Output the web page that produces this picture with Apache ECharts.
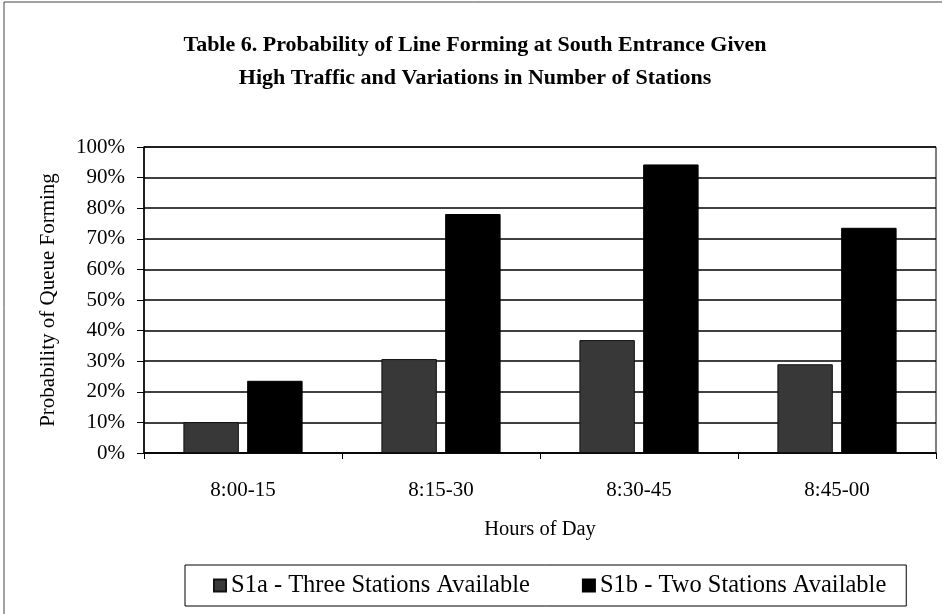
<!DOCTYPE html>
<html>
<head>
<meta charset="utf-8">
<script src="https://cdn.jsdelivr.net/npm/echarts@6/dist/echarts.min.js"></script>
<style>html,body{margin:0;padding:0;background:#fff;}#c{width:942px;height:614px;}</style>
</head>
<body>
<div id="c"></div>
<script>
const categories = ['8:00-15', '8:15-30', '8:30-45', '8:45-00'];
const s1a = [10.1, 30.7, 36.9, 29.0];
const s1b = [23.6, 78.1, 94.3, 73.6];
const seriesNames = ['S1a - Three Stations Available', 'S1b - Two Stations Available'];

const font = '"Liberation Serif", "Times New Roman", serif';
const chart = echarts.init(document.getElementById('c'));
chart.setOption({
  animation: false,
  backgroundColor: '#fff',
  textStyle: { fontFamily: font, color: '#000' },
  title: {
    text: 'Table 6. Probability of Line Forming at South Entrance Given\nHigh Traffic and Variations in Number of Stations',
    left: 470, top: 24, textAlign: 'center',
    textStyle: { fontFamily: font, fontSize: 22, fontWeight: 'bold', color: '#000', lineHeight: 33 }
  },
  graphic: [{
    type: 'rect', shape: { x: 4, y: 2, width: 960, height: 640 },
    style: { fill: 'none', stroke: '#444', lineWidth: 1 }, silent: true
  }],
  legend: {
    data: seriesNames,
    left: 185, top: 565,
    padding: [8, 20, 8, 28],
    itemGap: 52, itemWidth: 12, itemHeight: 12,
    borderColor: '#000', borderWidth: 1,
    icon: 'rect',
    textStyle: { fontFamily: font, fontSize: 24.5, color: '#000' }
  },
  grid: { left: 144, right: 6, top: 147, bottom: 161, show: true, borderColor: '#000', borderWidth: 1 },
  xAxis: {
    type: 'category', data: categories,
    name: 'Hours of Day', nameLocation: 'middle', nameGap: 66,
    nameTextStyle: { fontFamily: font, fontSize: 20.5, color: '#000' },
    axisLine: { lineStyle: { color: '#000', width: 1.5 } },
    axisTick: { show: true, length: 6, lineStyle: { color: '#000' } },
    axisLabel: { fontFamily: font, fontSize: 21, color: '#000', margin: 27 }
  },
  yAxis: {
    type: 'value', min: 0, max: 100, interval: 10,
    name: 'Probability of Queue Forming', nameLocation: 'middle', nameGap: 85, nameRotate: 90,
    nameTextStyle: { fontFamily: font, fontSize: 21, color: '#000' },
    axisLine: { show: true, lineStyle: { color: '#000', width: 1.5 } },
    axisTick: { show: true, length: 7, lineStyle: { color: '#000' } },
    axisLabel: { fontFamily: font, fontSize: 21, color: '#000', margin: 19, formatter: '{value}%' },
    splitLine: { show: true, lineStyle: { color: '#000', width: 1.5 } }
  },
  series: [
    { name: seriesNames[0], type: 'bar', data: s1a, barWidth: '28%', barGap: '15%',
      itemStyle: { color: '#383838', borderColor: '#111', borderWidth: 1 } },
    { name: seriesNames[1], type: 'bar', data: s1b, barWidth: '28%', barGap: '15%',
      itemStyle: { color: '#000', borderColor: '#000', borderWidth: 1 } }
  ]
});
</script>
</body>
</html>
